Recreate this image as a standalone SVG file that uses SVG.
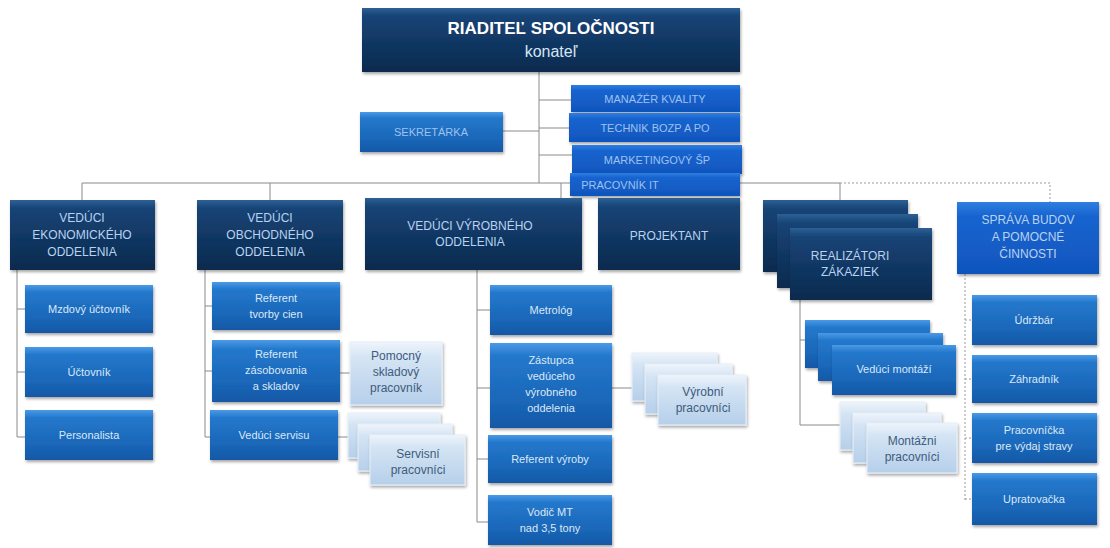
<svg xmlns="http://www.w3.org/2000/svg" width="1110" height="548" viewBox="0 0 1110 548">
<defs>
<linearGradient id="gNavy" x1="0" y1="0" x2="0" y2="1">
<stop offset="0" stop-color="#2d6096"/>
<stop offset="0.12" stop-color="#174476"/>
<stop offset="0.6" stop-color="#103560"/>
<stop offset="1" stop-color="#0c2a4e"/>
</linearGradient>
<linearGradient id="gBlue" x1="0" y1="0" x2="0" y2="1">
<stop offset="0" stop-color="#4a9ae6"/>
<stop offset="0.15" stop-color="#2478cc"/>
<stop offset="0.7" stop-color="#1a66b8"/>
<stop offset="1" stop-color="#1458a6"/>
</linearGradient>
<linearGradient id="gBright" x1="0" y1="0" x2="0" y2="1">
<stop offset="0" stop-color="#2f7ee0"/>
<stop offset="0.2" stop-color="#1764d0"/>
<stop offset="1" stop-color="#1055bc"/>
</linearGradient>
<linearGradient id="gLight" x1="0" y1="0" x2="0" y2="1">
<stop offset="0" stop-color="#eef4fb"/>
<stop offset="0.25" stop-color="#d4e4f4"/>
<stop offset="1" stop-color="#b6cfea"/>
</linearGradient>
<filter id="sh" x="-10%" y="-10%" width="130%" height="140%">
<feDropShadow dx="1" dy="2" stdDeviation="1.5" flood-color="#000" flood-opacity="0.35"/>
</filter>
</defs>
<style>
.navy{fill:url(#gNavy);filter:url(#sh)}
.blue{fill:url(#gBlue);filter:url(#sh)}
.bright{fill:url(#gBright);filter:url(#sh)}
.light{fill:url(#gLight);stroke:#e8f0f8;stroke-width:1;filter:url(#sh)}
text{font-family:"Liberation Sans",Arial,sans-serif;text-anchor:middle}
.t2{font-size:12px;fill:#b8d2f0}
.t3{font-size:11px;fill:#dbe8f6}
.tl{font-size:12px;fill:#3e5c7c}
.ts{font-size:11px;fill:#9cc2f0}
.con{stroke:#8a8a8a;stroke-width:1;fill:none}
.dash{stroke:#999;stroke-width:1;fill:none;stroke-dasharray:2 2}
</style>
<rect width="1110" height="548" fill="#ffffff"/>

<g id="connectors">
<path class="con" d="M539 72V183M539 100H571M539 128H569M539 155H572M503 131H539"/>
<path class="con" d="M82 183H570M82 183V200M270 183V200M561 183V198M740 183H840M840 183V200"/>
<path class="dash" d="M840 183H1050V202"/>
<path class="con" d="M17 270V437M17 309H25M17 372H25M17 437H25"/>
<path class="con" d="M205 270V437M205 306H212M205 371H212M205 437H210M340 373H350M338 437H348"/>
<path class="con" d="M477 270V522M477 310H490M477 388H490M477 459H488M477 522H488M612 388H632"/>
<path class="con" d="M800 300V425M800 340H805M800 425H840"/>
<path class="dash" d="M965 274V500M965 320H972M965 379H972M965 438H972M965 499H972"/>
</g>

<g id="n-riaditel">
<rect class="navy" x="362" y="8" width="378" height="64"/>
<text x="551" y="34" font-size="17" font-weight="bold" fill="#ffffff">RIADITEĽ SPOLOČNOSTI</text>
<text x="551" y="57" font-size="16" fill="#d6e4f4">konateľ</text>
</g>

<g id="n-sekretarka">
<rect class="blue" x="360" y="112" width="143" height="40"/>
<text class="ts" x="431" y="136">SEKRETÁRKA</text>
</g>

<g id="n-manazer">
<rect class="bright" x="571" y="85" width="169" height="27"/>
<text class="ts" x="655" y="103">MANAŽÉR KVALITY</text>
</g>
<g id="n-technik">
<rect class="bright" x="569" y="113" width="171" height="29"/>
<text class="ts" x="655" y="132">TECHNIK BOZP A PO</text>
</g>
<g id="n-marketing">
<rect class="bright" x="572" y="145" width="170" height="29"/>
<text class="ts" x="657" y="164">MARKETINGOVÝ ŠP</text>
</g>
<g id="n-it">
<rect class="bright" x="570" y="173" width="170" height="23"/>
<text class="ts" x="620" y="189">PRACOVNÍK IT</text>
</g>

<g id="n-ekonom">
<rect class="navy" x="10" y="200" width="145" height="70"/>
<text class="t2" x="82" y="222">VEDÚCI</text>
<text class="t2" x="82" y="239">EKONOMICKÉHO</text>
<text class="t2" x="82" y="256">ODDELENIA</text>
</g>
<g id="n-obchod">
<rect class="navy" x="197" y="200" width="146" height="70"/>
<text class="t2" x="270" y="222">VEDÚCI</text>
<text class="t2" x="270" y="239">OBCHODNÉHO</text>
<text class="t2" x="270" y="256">ODDELENIA</text>
</g>
<g id="n-vyroba">
<rect class="navy" x="365" y="198" width="217" height="72"/>
<text class="t2" x="470" y="230">VEDÚCI VÝROBNÉHO</text>
<text class="t2" x="470" y="246">ODDELENIA</text>
</g>
<g id="n-projektant">
<rect class="navy" x="598" y="198" width="142" height="72"/>
<text class="t2" x="669" y="240">PROJEKTANT</text>
</g>
<g id="n-realizatori">
<rect class="navy" x="763" y="200" width="145" height="72"/>
<rect class="navy" x="777" y="214" width="141" height="74"/>
<rect class="navy" x="790" y="228" width="142" height="72"/>
<text class="t2" x="850" y="260">REALIZÁTORI</text>
<text class="t2" x="850" y="276">ZÁKAZIEK</text>
</g>
<g id="n-sprava">
<rect class="bright" x="957" y="202" width="142" height="72"/>
<text class="t2" x="1028" y="224">SPRÁVA BUDOV</text>
<text class="t2" x="1028" y="241">A POMOCNÉ</text>
<text class="t2" x="1028" y="258">ČINNOSTI</text>
</g>

<g id="n-mzdovy">
<rect class="blue" x="25" y="285" width="128" height="48"/>
<text class="t3" x="89" y="313">Mzdový účtovník</text>
</g>
<g id="n-uctovnik">
<rect class="blue" x="25" y="347" width="128" height="50"/>
<text class="t3" x="89" y="376">Účtovník</text>
</g>
<g id="n-personalista">
<rect class="blue" x="25" y="410" width="128" height="50"/>
<text class="t3" x="89" y="439">Personalista</text>
</g>

<g id="n-ref-cien">
<rect class="blue" x="212" y="282" width="128" height="48"/>
<text class="t3" x="276" y="302">Referent</text>
<text class="t3" x="276" y="318">tvorby cien</text>
</g>
<g id="n-ref-zasob">
<rect class="blue" x="212" y="340" width="128" height="62"/>
<text class="t3" x="276" y="358">Referent</text>
<text class="t3" x="276" y="374">zásobovania</text>
<text class="t3" x="276" y="390">a skladov</text>
</g>
<g id="n-servis">
<rect class="blue" x="210" y="410" width="128" height="50"/>
<text class="t3" x="274" y="439">Vedúci servisu</text>
</g>
<g id="n-pomocny">
<rect class="light" x="350" y="342" width="92" height="63"/>
<text class="tl" x="396" y="360">Pomocný</text>
<text class="tl" x="396" y="376">skladový</text>
<text class="tl" x="396" y="392">pracovník</text>
</g>
<g id="n-servisni">
<rect class="light" x="348" y="413" width="92" height="45"/>
<rect class="light" x="358" y="424" width="94" height="47"/>
<rect class="light" x="370" y="435" width="95" height="50"/>
<text class="tl" x="418" y="458">Servisní</text>
<text class="tl" x="418" y="474">pracovníci</text>
</g>

<g id="n-metrolog">
<rect class="blue" x="490" y="285" width="122" height="50"/>
<text class="t3" x="551" y="314">Metrológ</text>
</g>
<g id="n-zastupca">
<rect class="blue" x="490" y="343" width="122" height="85"/>
<text class="t3" x="551" y="364">Zástupca</text>
<text class="t3" x="551" y="380">vedúceho</text>
<text class="t3" x="551" y="396">výrobného</text>
<text class="t3" x="551" y="412">oddelenia</text>
</g>
<g id="n-ref-vyroby">
<rect class="blue" x="488" y="435" width="124" height="48"/>
<text class="t3" x="550" y="463">Referent výroby</text>
</g>
<g id="n-vodic">
<rect class="blue" x="488" y="495" width="124" height="50"/>
<text class="t3" x="550" y="516">Vodič MT</text>
<text class="t3" x="550" y="532">nad 3,5 tony</text>
</g>
<g id="n-vyrobni">
<rect class="light" x="632" y="353" width="85" height="48"/>
<rect class="light" x="645" y="364" width="87" height="50"/>
<rect class="light" x="658" y="375" width="88" height="50"/>
<text class="tl" x="703" y="396">Výrobní</text>
<text class="tl" x="703" y="412">pracovníci</text>
</g>

<g id="n-montazi">
<rect class="blue" x="805" y="320" width="125" height="48"/>
<rect class="blue" x="818" y="333" width="125" height="48"/>
<rect class="blue" x="832" y="345" width="124" height="50"/>
<text class="t3" x="894" y="373">Vedúci montáží</text>
</g>
<g id="n-montazni">
<rect class="light" x="840" y="402" width="85" height="48"/>
<rect class="light" x="853" y="413" width="88" height="50"/>
<rect class="light" x="867" y="423" width="90" height="50"/>
<text class="tl" x="912" y="445">Montážni</text>
<text class="tl" x="912" y="461">pracovníci</text>
</g>

<g id="n-udrzbar">
<rect class="blue" x="972" y="295" width="125" height="50"/>
<text class="t3" x="1034" y="324">Údržbár</text>
</g>
<g id="n-zahradnik">
<rect class="blue" x="972" y="355" width="125" height="48"/>
<text class="t3" x="1034" y="383">Záhradník</text>
</g>
<g id="n-pracovnicka">
<rect class="blue" x="972" y="413" width="125" height="50"/>
<text class="t3" x="1034" y="434">Pracovníčka</text>
<text class="t3" x="1034" y="450">pre výdaj stravy</text>
</g>
<g id="n-upratovacka">
<rect class="blue" x="972" y="473" width="125" height="52"/>
<text class="t3" x="1034" y="503">Upratovačka</text>
</g>
</svg>
